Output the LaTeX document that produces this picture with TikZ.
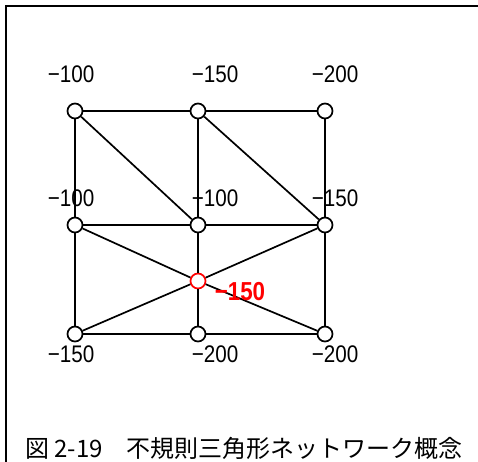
\documentclass[tikz,border=0pt]{standalone}
\usepackage{fontspec}
\setmainfont{Liberation Sans}
\newfontfamily\labfont[FakeStretch=0.86]{Liberation Sans}
\newfontfamily\cjkfont{Noto Sans CJK JP}
\begin{document}
\begin{tikzpicture}[x=1pt,y=-1pt,
  pt/.style={circle,draw,line width=1.7pt,fill=white,minimum size=15pt,inner sep=0pt},
  edge/.style={line width=1.7pt},
  lbl/.style={font=\labfont\fontsize{24}{24}\selectfont,inner sep=0pt},
  redlbl/.style={font=\labfont\bfseries\fontsize{26}{26}\selectfont,inner sep=0pt,text=red},
  captext/.style={font=\cjkfont\fontsize{24}{24}\selectfont,inner sep=0pt}]
\clip (0,0) rectangle (478,461);
\fill[white] (0,0) rectangle (478,461);
\draw[line width=2pt] (6,480) -- (6,6) -- (490,6);
% nodes
\node[pt] (a1) at (75,111) {};
\node[pt] (a2) at (198,111) {};
\node[pt] (a3) at (325,111) {};
\node[pt] (b1) at (75,225) {};
\node[pt] (b2) at (198,225) {};
\node[pt] (b3) at (325,225) {};
\node[pt,draw=red] (r) at (198,281) {};
\node[pt] (c1) at (75,334) {};
\node[pt] (c2) at (198,334) {};
\node[pt] (c3) at (325,334) {};
% edges
\draw[edge] (a1) -- (a2);
\draw[edge] (a2) -- (a3);
\draw[edge] (a1) -- (b1);
\draw[edge] (b1) -- (c1);
\draw[edge] (a2) -- (b2);
\draw[edge] (b2) -- (r);
\draw[edge] (r) -- (c2);
\draw[edge] (a3) -- (b3);
\draw[edge] (b3) -- (c3);
\draw[edge] (a1) -- (b2);
\draw[edge] (a2) -- (b3);
\draw[edge] (b1) -- (b2);
\draw[edge] (b2) -- (b3);
\draw[edge] (b1) -- (r);
\draw[edge] (r) -- (c3);
\draw[edge] (b3) -- (r);
\draw[edge] (r) -- (c1);
\draw[edge] (c1) -- (c2);
\draw[edge] (c2) -- (c3);
% labels
\node[lbl] (la1) at (71,74) {−100};
\node[lbl] (la2) at (215,74) {−150};
\node[lbl] (la3) at (335,74) {−200};
\node[lbl] (lb1) at (71,198) {−100};
\node[lbl] (lb2) at (215,198) {−100};
\node[lbl] (lb3) at (335,198) {−150};
\node[lbl] (lc1) at (71,354) {−150};
\node[lbl] (lc2) at (215,354) {−200};
\node[lbl] (lc3) at (335,354) {−200};
\node[redlbl] (lr) at (240,292) {−150};
\node[captext] (caption) at (244,448) {図 2-19　不規則三角形ネットワーク概念};
\end{tikzpicture}
\end{document}
